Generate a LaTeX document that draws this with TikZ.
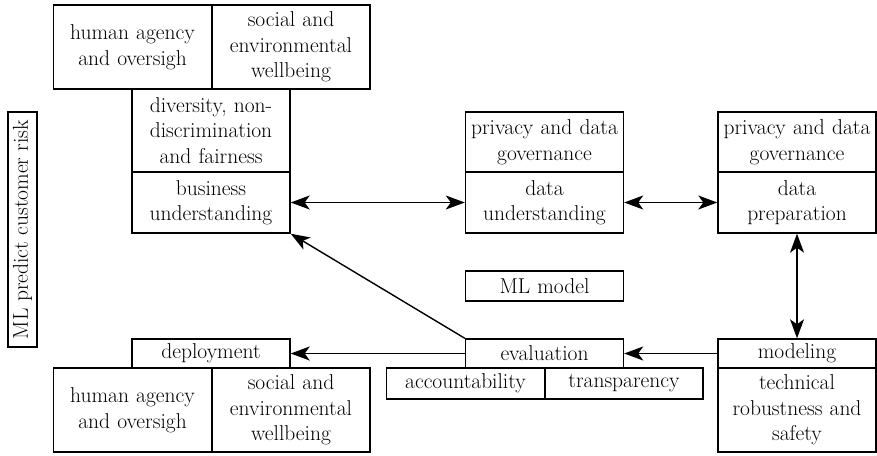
\documentclass[tikz,border=0pt]{standalone}
\usepackage{fontspec}
\usepackage{tikz}
\usetikzlibrary{arrows.meta}

\begin{document}
\begin{tikzpicture}[x=1pt, y=-1pt,
    box/.style={draw, line width=1.4pt, align=center, inner sep=0pt,
      font=\fontsize{21.5}{25.5}\selectfont},
    wide/.style={text width=158pt},
    oneline/.style={minimum height=30pt},
    twoline/.style={minimum height=61pt},
    threeline/.style={minimum height=84pt},
    flow/.style={line width=1.4pt, -{Stealth[length=19pt,width=14pt,inset=5pt]}},
    twoway/.style={line width=1.4pt, {Stealth[length=19pt,width=14pt,inset=5pt]}-{Stealth[length=19pt,width=14pt,inset=5pt]}}]
  \useasboundingbox (0,0) rectangle (877,455);

  % side label
  \node[box, rotate=90, minimum width=235pt, minimum height=29pt] (side) at (22.5,229.5) {ML predict customer risk};

  % business understanding column
  \node[box, wide, threeline] (haotop) at (132.5,47) {human agency\\and oversigh};
  \node[box, wide, threeline] (sewtop) at (291,47) {social and\\environmental\\wellbeing};
  \node[box, wide, minimum height=83pt] (dnf) at (211,130.5) {diversity, non-\\discrimination\\and fairness};
  \node[box, wide, twoline] (bu) at (211,202.5) {business\\understanding};

  % data understanding / preparation
  \node[box, wide, minimum height=60pt] (pdgdu) at (544.5,142) {privacy and data\\governance};
  \node[box, wide, twoline] (du) at (544.5,202.5) {data\\understanding};
  \node[box, wide, minimum height=60pt] (pdgdp) at (797,142) {privacy and data\\governance};
  \node[box, wide, twoline] (dp) at (797,202.5) {data\\preparation};

  \node[box, wide, oneline] (ml) at (544.5,286) {ML model};

  % modeling
  \node[box, wide, minimum height=29pt] (mod) at (797,353.5) {modeling};
  \node[box, wide, threeline] (trs) at (797,410) {technical\\robustness and\\safety};

  % evaluation
  \node[box, wide, minimum height=29pt] (ev) at (544.5,353.5) {evaluation};
  \node[box, wide, minimum height=31pt] (acc) at (465.5,383.5) {accountability};
  \node[box, wide, minimum height=31pt] (tra) at (624,383.5) {transparency};

  % deployment
  \node[box, wide, minimum height=29pt] (dep) at (211,353.5) {deployment};
  \node[box, wide, threeline] (haobot) at (132.5,410) {human agency\\and oversigh};
  \node[box, wide, threeline] (sewbot) at (291,410) {social and\\environmental\\wellbeing};

  % connectors
  \draw[twoway] (bu.east) -- (du.west);
  \draw[twoway] (du.east) -- (dp.west);
  \draw[twoway] (dp.south) -- (mod.north);
  \draw[flow] (mod.west) -- (ev.east);
  \draw[flow] (ev.west) -- (dep.east);
  \draw[flow] (ev.north west) -- (bu.south east);
\end{tikzpicture}
\end{document}
